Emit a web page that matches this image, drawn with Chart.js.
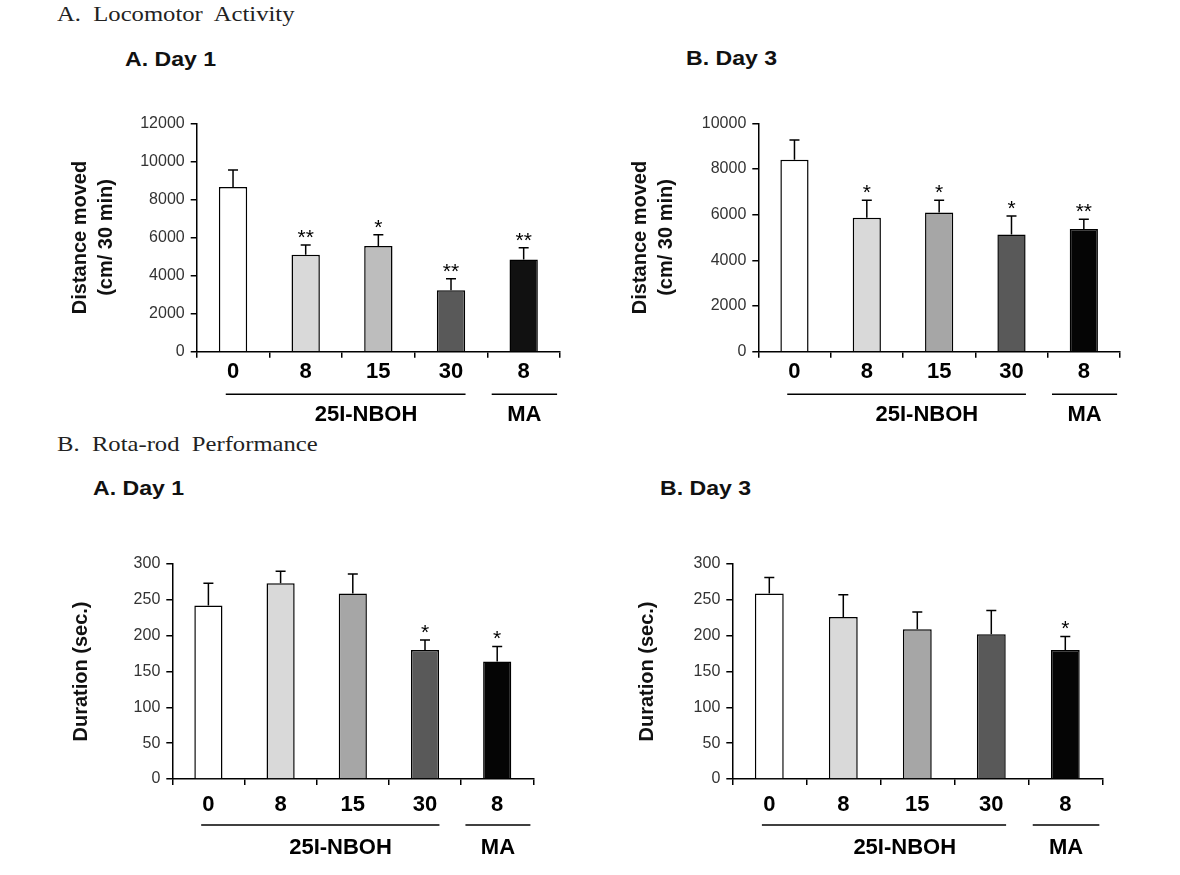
<!DOCTYPE html>
<html>
<head>
<meta charset="utf-8">
<script src="https://cdn.jsdelivr.net/npm/chart.js@4.4.0/dist/chart.umd.min.js"></script>
<style>
    body { margin: 0; background: #fff; width: 1180px; height: 875px; position: relative; overflow: hidden; font-family: "Liberation Sans", Arial, sans-serif; }
    canvas { position: absolute; }
    .section { position: absolute; left: 57px; font-family: "Liberation Serif", "Times New Roman", serif; font-size: 22px; line-height: 24px; color: #222; white-space: pre; transform: scaleX(1.12); transform-origin: 0 0; }
    .panel { position: absolute; font-weight: bold; font-size: 21px; line-height: 24px; color: #111; transform: scaleX(1.1); transform-origin: 0 0; }
</style>
</head>
<body>
<div class="section" style="top:2px">A.  Locomotor  Activity</div>
<div class="panel" style="left:125px;top:47px">A. Day 1</div>
<div class="panel" style="left:686px;top:46px">B. Day 3</div>
<div class="section" style="top:432px">B.  Rota-rod  Performance</div>
<div class="panel" style="left:93px;top:476px">A. Day 1</div>
<div class="panel" style="left:660px;top:476px">B. Day 3</div>

<canvas id="locoDay1" width="520" height="345" style="left:55px;top:95px"></canvas>
<canvas id="locoDay3" width="520" height="345" style="left:615px;top:95px"></canvas>
<canvas id="rotaDay1" width="500" height="340" style="left:55px;top:535px"></canvas>
<canvas id="rotaDay3" width="510" height="340" style="left:615px;top:535px"></canvas>

<script>
// Categories (dose, mg/kg) and treatment groups
const doses = ['0', '8', '15', '30', '8'];
const groupNames = ['25I-NBOH', 'MA'];
const groupRanges = [[0, 3], [4, 4]];

// Locomotor activity, distance moved (cm / 30 min): mean and SEM
const locoDay1Mean = [8650, 5100, 5550, 3230, 4840];
const locoDay1Sem = [900, 510, 600, 600, 620];
const locoDay1Stars = ['', '**', '*', '**', '**'];

const locoDay3Mean = [8400, 5870, 6090, 5130, 5370];
const locoDay3Sem = [870, 760, 540, 810, 430];
const locoDay3Stars = ['', '*', '*', '*', '**'];

// Rota-rod duration (sec.): mean and SEM
const rotaDay1Mean = [242, 273, 259, 180, 164];
const rotaDay1Sem = [31, 17, 27, 14, 21];
const rotaDay1Stars = ['', '', '', '*', '*'];

const rotaDay3Mean = [259, 226, 209, 202, 180];
const rotaDay3Sem = [22, 31, 24, 33, 19];
const rotaDay3Stars = ['', '', '', '', '*'];

const FONT = '"Liberation Sans", Arial, sans-serif';

// Error bars, significance stars and the group bars under the axis
const extrasPlugin = {
    id: 'extras',
    afterDatasetsDraw(chart, args, opts) {
        const ctx = chart.ctx;
        const x = chart.scales.x;
        const y = chart.scales.y;
        const w = x.getPixelForValue(1) - x.getPixelForValue(0);
        ctx.save();
        ctx.strokeStyle = '#000';
        ctx.fillStyle = '#000';
        ctx.lineWidth = 1.5;
        opts.mean.forEach((m, i) => {
            const px = x.getPixelForValue(i);
            const base = y.getPixelForValue(m);
            const top = y.getPixelForValue(m + opts.sem[i]);
            ctx.beginPath();
            ctx.moveTo(px, base);
            ctx.lineTo(px, top);
            ctx.moveTo(px - 5, top);
            ctx.lineTo(px + 5, top);
            ctx.stroke();
            if (opts.stars[i]) {
                ctx.font = '21px ' + FONT;
                ctx.textAlign = 'center';
                ctx.textBaseline = 'alphabetic';
                ctx.fillText(opts.stars[i], px, top - 1);
            }
        });

        const bottom = chart.chartArea.bottom;
        ctx.lineWidth = 1.5;
        ctx.font = 'bold 22px ' + FONT;
        ctx.textAlign = 'center';
        ctx.textBaseline = 'middle';
        groupRanges.forEach((r, g) => {
            const single = r[0] === r[1];
            const x0 = x.getPixelForValue(r[0]) - (single ? 0.44 : 0.1) * w;
            const x1 = x.getPixelForValue(r[1]) + (single ? 0.46 : 0.2) * w;
            ctx.beginPath();
            ctx.moveTo(x0, bottom + opts.lineGap);
            ctx.lineTo(x1, bottom + opts.lineGap);
            ctx.stroke();
            const lx = (x0 + x1) / 2 + (single ? 0 : 0.28 * w);
            ctx.fillText(groupNames[g], lx, bottom + opts.labelGap);
        });
        ctx.restore();
    }
};

function makeChart(id, cfg) {
    const axisLine = { color: '#000', width: 1.5 };
    return new Chart(document.getElementById(id), {
        type: 'bar',
        data: {
            labels: doses,
            datasets: [{
                data: cfg.mean,
                backgroundColor: cfg.colors,
                borderColor: '#000',
                borderWidth: 1.5,
                barPercentage: 0.39,
                categoryPercentage: 1
            }]
        },
        options: {
            responsive: false,
            animation: false,
            layout: { padding: { top: cfg.padTop, right: cfg.padRight, left: 0, bottom: 0 } },
            plugins: {
                legend: { display: false },
                tooltip: { enabled: false },
                extras: { mean: cfg.mean, sem: cfg.sem, stars: cfg.stars, lineGap: cfg.lineGap, labelGap: cfg.labelGap }
            },
            scales: {
                x: {
                    border: axisLine,
                    grid: { drawOnChartArea: false, offset: true, tickLength: 6, color: '#000', lineWidth: 1.5 },
                    ticks: { font: { size: 22, weight: 'bold', family: FONT }, color: '#000', padding: cfg.xPad },
                    afterFit: s => { s.height = cfg.xH; }
                },
                y: {
                    min: 0,
                    max: cfg.max,
                    border: axisLine,
                    grid: { drawOnChartArea: false, tickLength: 6, color: '#000', lineWidth: 1.5 },
                    ticks: { stepSize: cfg.step, font: { size: 16, family: FONT }, color: '#333', padding: 6, callback: v => String(v) },
                    title: {
                        display: true,
                        text: cfg.title,
                        color: '#111',
                        font: { size: 20, weight: 'bold', family: FONT, lineHeight: 1.3 },
                        padding: { top: cfg.titlePad, bottom: 0 }
                    },
                    afterFit: s => { s.width = cfg.yW; }
                }
            }
        },
        plugins: [extrasPlugin]
    });
}

const greys1 = ['#ffffff', '#d9d9d9', '#bdbdbd', '#595959', '#111111'];
const greys2 = ['#ffffff', '#d9d9d9', '#a6a6a6', '#595959', '#050505'];

makeChart('locoDay1', {
    mean: locoDay1Mean, sem: locoDay1Sem, stars: locoDay1Stars, colors: greys1,
    max: 12000, step: 2000, title: ['Distance moved', '(cm/ 30 min)'],
    yW: 141.7, xH: 88.3, padTop: 28.3, padRight: 15, titlePad: 12,
    xPad: 1, lineGap: 42.6, labelGap: 63.3
});
makeChart('locoDay3', {
    mean: locoDay3Mean, sem: locoDay3Sem, stars: locoDay3Stars, colors: greys2,
    max: 10000, step: 2000, title: ['Distance moved', '(cm/ 30 min)'],
    yW: 143.3, xH: 88.3, padTop: 28.3, padRight: 15, titlePad: 12,
    xPad: 1, lineGap: 42.6, labelGap: 63.3
});
makeChart('rotaDay1', {
    mean: rotaDay1Mean, sem: rotaDay1Sem, stars: rotaDay1Stars, colors: greys2,
    max: 300, step: 50, title: 'Duration (sec.)',
    yW: 117.3, xH: 96, padTop: 29, padRight: 21.7, titlePad: 13,
    xPad: 7, lineGap: 46, labelGap: 69.3
});
makeChart('rotaDay3', {
    mean: rotaDay3Mean, sem: rotaDay3Sem, stars: rotaDay3Stars, colors: greys2,
    max: 300, step: 50, title: 'Duration (sec.)',
    yW: 117.3, xH: 96, padTop: 29, padRight: 22.7, titlePad: 19,
    xPad: 7, lineGap: 46, labelGap: 69.3
});
</script>
</body>
</html>
